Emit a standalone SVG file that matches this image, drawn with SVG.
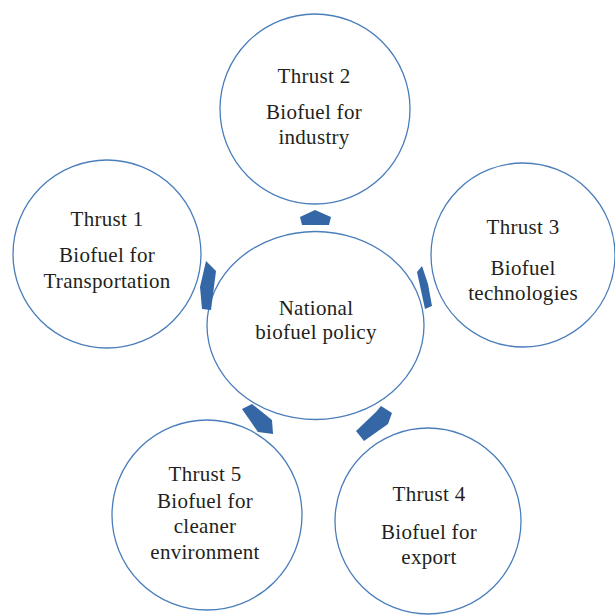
<svg xmlns="http://www.w3.org/2000/svg" width="615" height="616" viewBox="0 0 615 616">
<style>
.c{fill:#fff;stroke:#4a7ebb;stroke-width:1.3}
.t{font-family:"Liberation Serif","Times New Roman",serif;font-size:21px;letter-spacing:0.3px;fill:#231f20;text-anchor:middle}
.a{fill:#3566a6}
</style>
<rect width="615" height="616" fill="#fff"/>
<g id="thrust2"><circle class="c" cx="315" cy="109" r="95"/>
<text class="t" x="314" y="83">Thrust 2</text><text class="t" x="314" y="119">Biofuel for</text><text class="t" x="314" y="144">industry</text></g>
<g id="thrust1"><circle class="c" cx="107" cy="254" r="94"/>
<text class="t" x="107" y="226">Thrust 1</text><text class="t" x="107" y="262">Biofuel for</text><text class="t" x="107" y="288">Transportation</text></g>
<g id="thrust3"><circle class="c" cx="523" cy="255" r="92"/>
<text class="t" x="523" y="234">Thrust 3</text><text class="t" x="523" y="275">Biofuel</text><text class="t" x="523" y="300">technologies</text></g>
<g id="thrust5"><circle class="c" cx="207" cy="515" r="95"/>
<text class="t" x="205" y="481">Thrust 5</text><text class="t" x="205" y="508">Biofuel for</text><text class="t" x="205" y="533">cleaner</text><text class="t" x="205" y="559">environment</text></g>
<g id="thrust4"><circle class="c" cx="428" cy="521" r="93"/>
<text class="t" x="429" y="501">Thrust 4</text><text class="t" x="429" y="539">Biofuel for</text><text class="t" x="429" y="564">export</text></g>
<g id="center"><ellipse class="c" cx="315.5" cy="325.5" rx="108.5" ry="94"/>
<text class="t" x="316" y="315">National</text><text class="t" x="316" y="339">biofuel policy</text></g>
<g id="connectors">
<polygon class="a" points="315,210 331,217 329,225 302,225 300,217"/>
<polygon class="a" points="206,261 216,271 211,310 202,309 200,287"/>
<polygon class="a" points="417,272 422,266 428,284 432,306 425,309"/>
<polygon class="a" points="242,409 252,404 272,420 273,434 258,432"/>
<polygon class="a" points="356,431 376,412 381,406 392,413 388,424 364,441"/>
</g>
</svg>
